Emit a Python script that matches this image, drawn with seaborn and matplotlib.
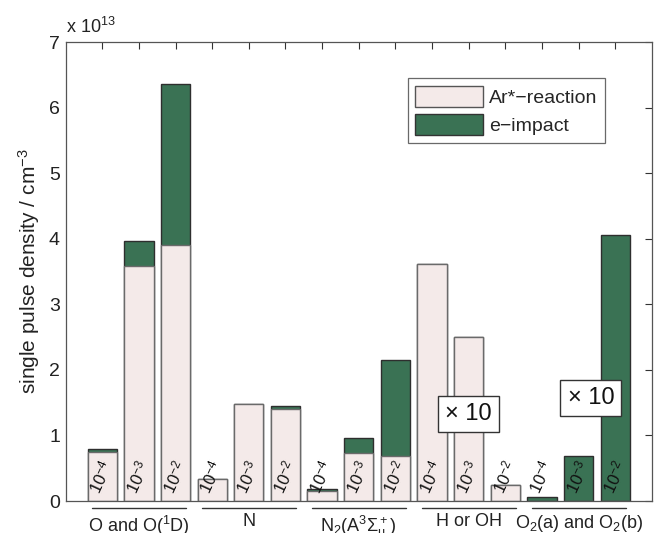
import numpy as np
import pandas as pd
import matplotlib
matplotlib.use("Agg")
import matplotlib.pyplot as plt
import matplotlib.transforms as mtransforms
from matplotlib.patches import Patch
import seaborn as sns

# ---- data (units of 1e13 cm^-3) ----
groups = ["O and O($^1$D)", "N", "N$_2$(A$^3\\Sigma_\\mathrm{u}^+$)", "H or OH", "O$_2$(a) and O$_2$(b)"]
conc_labels = ["10$^{-4}$", "10$^{-3}$", "10$^{-2}$"]
ar_reaction = [0.75, 3.58, 3.91, 0.335, 1.48, 1.40, 0.16, 0.73, 0.69, 3.62, 2.50, 0.24, 0.0, 0.0, 0.0]
total = [0.80, 3.965, 6.36, 0.335, 1.48, 1.45, 0.19, 0.955, 2.15, 3.62, 2.50, 0.24, 0.066, 0.69, 4.06]
times_ten_boxes = [(11, 1.33), (14.33, 1.57)]

sns.set_style("white")
plt.rcParams["font.family"] = ["Liberation Sans", "DejaVu Sans"]
plt.rcParams["mathtext.fontset"] = "custom"
plt.rcParams["mathtext.rm"] = "Liberation Sans"
plt.rcParams["mathtext.it"] = "Liberation Sans:italic"
plt.rcParams["mathtext.bf"] = "Liberation Sans:bold"
plt.rcParams["mathtext.sf"] = "Liberation Sans"

pink = "#F4EAE9"
green = "#3A7254"

pos = np.arange(1, len(total) + 1)
df = pd.DataFrame({"pos": pos, "total": total, "ar": ar_reaction})

fig = plt.figure(figsize=(6.62, 5.33), dpi=100)
ax = fig.add_axes([0.099, 0.06, 0.886, 0.861])

sns.barplot(data=df, x="pos", y="total", native_scale=True, color=green,
            saturation=1, edgecolor="#2e2e2e", linewidth=1.0, width=0.8, ax=ax)
sns.barplot(data=df, x="pos", y="ar", native_scale=True, color=pink,
            saturation=1, edgecolor="#6a6a6a", linewidth=1.0, width=0.8, ax=ax)

ax.set_xlim(0, 16)
ax.set_ylim(0, 7)
ax.set_xticks(pos)
ax.set_xticklabels([])
ax.set_xlabel("")
ax.set_yticks(range(0, 8))
ax.tick_params(direction="in", top=True, right=True, length=5, width=0.8,
               labelsize=14, colors="#333333", labelcolor="#222222", pad=4)
for s in ax.spines.values():
    s.set_visible(True)
    s.set_color("#555555")
    s.set_linewidth(0.9)
ax.set_ylabel("single pulse density / cm$^{-3}$", fontsize=15, color="#222222", labelpad=5)

ax.text(0.0, 1.012, "x 10$^{13}$", transform=ax.transAxes, fontsize=13,
        ha="left", va="bottom", color="#222222")

# rotated concentration labels inside bars
for i, p in enumerate(pos):
    ax.text(p - 0.04, 0.37, conc_labels[i % 3], rotation=65, ha="center", va="center",
            fontsize=12, color="#111111", rotation_mode="anchor")

# group labels and lines below axis
trans = mtransforms.blended_transform_factory(ax.transData, ax.transAxes)
for g, name in enumerate(groups):
    c = 2 + 3 * g
    ax.plot([c - 1.28, c + 1.28], [-0.016, -0.016], transform=trans, color="#333333",
            lw=1.0, clip_on=False)
    ax.text(c, -0.027, name, transform=trans, ha="center", va="top", fontsize=13,
            color="#222222")

# x10 annotations
for (xb, yb) in times_ten_boxes:
    ax.text(xb, yb, "\u00d7 10", ha="center", va="center", fontsize=17, color="#111111",
            bbox=dict(boxstyle="square,pad=0.3", facecolor="white", edgecolor="#333333", lw=1.0))

handles = [Patch(facecolor=pink, edgecolor="#555555", label="Ar*\u2212reaction"),
           Patch(facecolor=green, edgecolor="#333333", label="e\u2212impact")]
leg = ax.legend(handles=handles, loc="upper right", bbox_to_anchor=(0.937, 0.942),
                fontsize=14, frameon=True, fancybox=False, edgecolor="#444444",
                handlelength=3.5, handleheight=1.3, borderpad=0.4, labelspacing=0.35,
                handletextpad=0.3)
leg.get_frame().set_linewidth(0.9)

fig.savefig("out.png", dpi=100)
